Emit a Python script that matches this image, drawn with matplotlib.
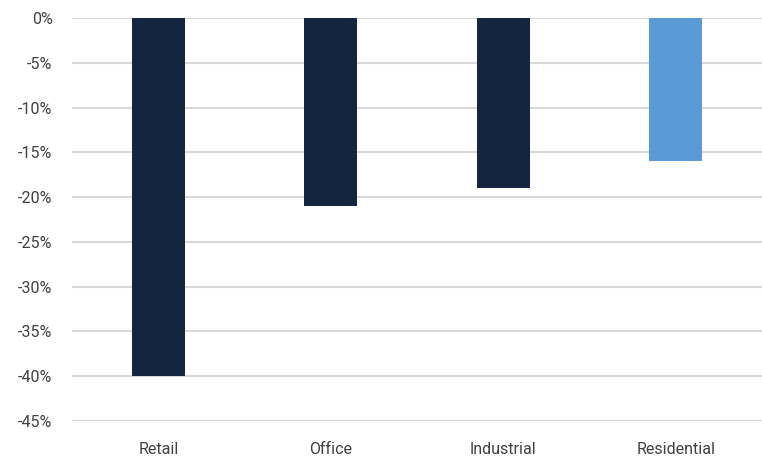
import matplotlib
matplotlib.use("Agg")
import matplotlib.pyplot as plt
from matplotlib.ticker import FuncFormatter

categories = ["Retail", "Office", "Industrial", "Residential"]
values = [-40, -21, -19, -16]
colors = ["#14263F", "#14263F", "#14263F", "#5B9BD5"]
yticks = list(range(0, -50, -5))

plt.rcParams["font.family"] = ["Roboto", "DejaVu Sans"]

fig = plt.figure(figsize=(7.62, 4.57), dpi=100)
ax = fig.add_axes([0.0945, 0.0788, 0.9055, 0.8818])

x = range(len(categories))
ax.bar(x, values, width=0.31, color=colors, zorder=3)

ax.set_xlim(-0.5, len(categories) - 0.5)
ax.set_ylim(-45, 0)
ax.set_yticks(yticks)
ax.yaxis.set_major_formatter(FuncFormatter(lambda v, p: f"{v:.0f}%"))
ax.set_xticks(list(x))
ax.set_xticklabels(categories)

ax.grid(axis="y", color="#D9D9D9", linewidth=1.5, zorder=0)
ax.set_axisbelow(True)
for s in ax.spines.values():
    s.set_visible(False)
ax.tick_params(length=0, labelsize=11.5, colors="#404040")
ax.tick_params(axis="x", pad=15)
ax.tick_params(axis="y", pad=14)

fig.savefig("out.png", dpi=100)
